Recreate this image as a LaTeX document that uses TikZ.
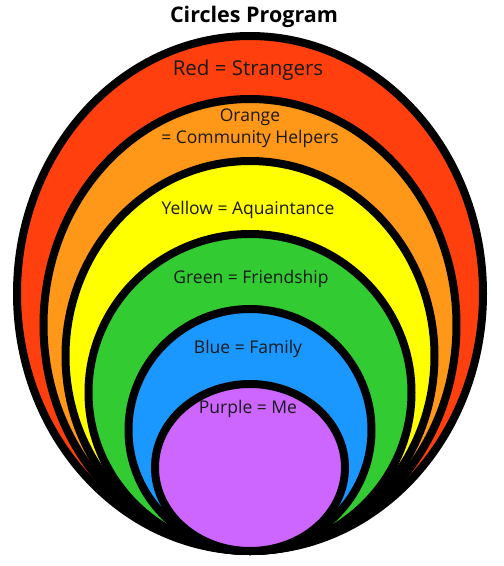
\documentclass[tikz,border=0pt]{standalone}
\usepackage{fontspec}
\setmainfont{Open Sans}
\definecolor{ringred}{RGB}{255,64,14}
\definecolor{ringorange}{RGB}{255,152,24}
\definecolor{ringyellow}{RGB}{255,255,0}
\definecolor{ringgreen}{RGB}{50,204,50}
\definecolor{ringblue}{RGB}{26,152,255}
\definecolor{ringpurple}{RGB}{204,102,255}
\begin{document}
\begin{tikzpicture}[x=1pt,y=-1pt,
  ring/.style={draw=black,line width=8pt},
  lbl/.style={font=\fontsize{17.5}{22}\selectfont,text=black!90,align=center,inner sep=0pt}]
\useasboundingbox (0,0) rectangle (504,566);
% rings, outermost first, all touching at the bottom
\filldraw[ring,fill=ringred]    (250,293.5) ellipse [x radius=233pt,y radius=257.5pt];
\filldraw[ring,fill=ringorange] (250,325)   ellipse [x radius=206.5pt,y radius=226pt];
\filldraw[ring,fill=ringyellow] (250,356)   ellipse [x radius=184.5pt,y radius=195pt];
\filldraw[ring,fill=ringgreen]  (250,392.5) ellipse [x radius=161.5pt,y radius=158.5pt];
\filldraw[ring,fill=ringblue]   (250,430)   ellipse [x radius=121.5pt,y radius=121pt];
\filldraw[ring,fill=ringpurple] (250,467.5) ellipse [x radius=95pt,y radius=83.5pt];
% labels
\node[font=\bfseries\fontsize{21.5}{24}\selectfont,inner sep=0pt] (title) at (254,17) {Circles Program};
\node[lbl,font=\fontsize{20.5}{22}\selectfont] (red) at (248,70) {Red = Strangers};
\node[lbl] (orange) at (250,128) {Orange\\= Community Helpers};
\node[lbl] (yellow) at (248,210) {Yellow = Aquaintance};
\node[lbl] (green) at (251,279) {Green = Friendship};
\node[lbl] (blue) at (248,349) {Blue = Family};
\node[lbl] (purple) at (248,409) {Purple = Me};
\end{tikzpicture}
\end{document}
